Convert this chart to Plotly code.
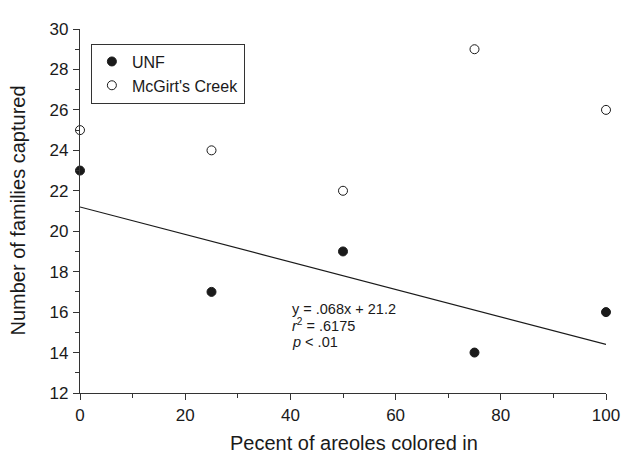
import plotly.graph_objects as go

# ---- data ----
pct_colored = [0, 25, 50, 75, 100]
unf_families = [23, 17, 19, 14, 16]
mcgirt_families = [25, 24, 22, 29, 26]
fit_slope = -0.068
fit_intercept = 21.2
fit_x = [0, 100]
fit_y = [fit_intercept + fit_slope * x for x in fit_x]
x_ticks = [0, 20, 40, 60, 80, 100]
y_ticks = [12, 14, 16, 18, 20, 22, 24, 26, 28, 30]
stats_lines = ["y = .068x + 21.2", "<i>r</i><sup>2</sup> = .6175", "<i>p</i> < .01"]

FONT = "Liberation Sans, Arial, sans-serif"
INK = "#1a1a1a"

fig = go.Figure()
fig.add_trace(go.Scatter(
    x=fit_x, y=fit_y, mode="lines", line=dict(color=INK, width=1.2),
    showlegend=False, hoverinfo="skip", cliponaxis=False))
fig.add_trace(go.Scatter(
    x=pct_colored, y=unf_families, mode="markers", name="UNF",
    marker=dict(symbol="circle", size=9, color=INK, line=dict(color=INK, width=1)),
    cliponaxis=False))
fig.add_trace(go.Scatter(
    x=pct_colored, y=mcgirt_families, mode="markers", name="McGirt's Creek",
    marker=dict(symbol="circle", size=9, color="white", line=dict(color=INK, width=1)),
    cliponaxis=False))

axis_common = dict(
    showline=True, linecolor="#333", linewidth=1.2, showgrid=False, zeroline=False,
    ticks="outside", ticklen=6, tickwidth=1.2, tickcolor="#333",
    tickfont=dict(family=FONT, size=17, color=INK),
)
fig.update_xaxes(range=[0, 100], tickvals=x_ticks,
                 minor=dict(ticks="outside", ticklen=4, dtick=10, tickcolor="#333", tickwidth=1.2),
                 **axis_common)
fig.update_yaxes(range=[12, 30], tickvals=y_ticks, ticklabelstandoff=1,
                 minor=dict(ticks="outside", ticklen=4, dtick=1, tickcolor="#333", tickwidth=1.2),
                 **axis_common)

annotations = [
    dict(text="Pecent of areoles colored in", xref="paper", yref="paper",
         x=0.5216, y=-0.137, xanchor="center", yanchor="middle", showarrow=False,
         font=dict(family=FONT, size=20, color=INK)),
    dict(text="Number of families captured", xref="paper", yref="paper",
         x=-0.094, y=0.5, xanchor="right", yanchor="middle", textangle=-90, showarrow=False,
         font=dict(family=FONT, size=20, color=INK)),
]
stat_y = [16.16, 15.36, 14.52]
for t, yy in zip(stats_lines, stat_y):
    annotations.append(dict(text=t, x=40, y=yy, xref="x", yref="y", xanchor="left",
                            yanchor="middle", showarrow=False,
                            font=dict(family=FONT, size=14.5, color=INK)))

fig.update_layout(
    width=624, height=446,
    margin=dict(l=72, r=20, t=13, b=61),
    paper_bgcolor="white", plot_bgcolor="white",
    font=dict(family=FONT, color=INK),
    legend=dict(x=0.0207, y=0.96, xanchor="left", yanchor="top",
                bordercolor="#333", borderwidth=1, bgcolor="white",
                font=dict(family=FONT, size=16, color=INK), tracegroupgap=0),
    annotations=annotations,
)

fig.write_html("out.html")
